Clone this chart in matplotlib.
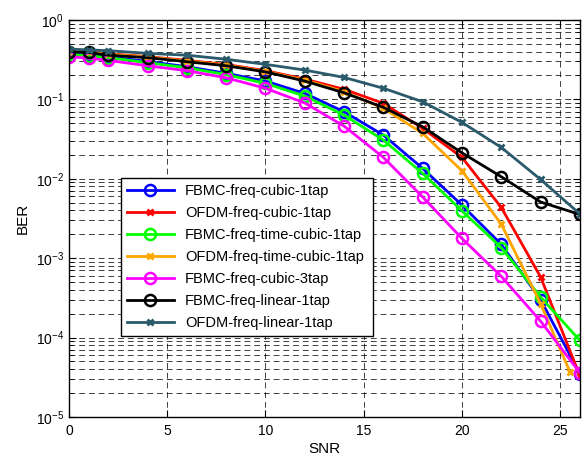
import numpy as np
import matplotlib
matplotlib.use("Agg")
import matplotlib.pyplot as plt
from matplotlib.ticker import LogLocator, NullFormatter

snr = [0, 1, 2, 4, 6, 8, 10, 12, 14, 16, 18, 20, 22, 24, 26]
snr_ofdm_time = [0, 1, 2, 4, 6, 8, 10, 12, 14, 16, 18, 20, 22, 24, 25.5]

ber_fbmc_cubic_1tap = [0.38, 0.365, 0.345, 0.30, 0.258, 0.213, 0.17, 0.119, 0.0698, 0.0355,
                       0.0135, 0.00465, 0.00149, 3.0e-4, 3.5e-5]
ber_ofdm_cubic_1tap = [0.41, 0.40, 0.375, 0.345, 0.31, 0.275, 0.23, 0.18, 0.134, 0.089,
                       0.0431, 0.0186, 0.00435, 5.8e-4, 3.3e-5]
ber_fbmc_time_cubic = [0.37, 0.355, 0.335, 0.29, 0.25, 0.205, 0.159, 0.11, 0.0634, 0.0307,
                       0.0117, 0.00394, 0.00136, 3.24e-4, 9.2e-5]
ber_ofdm_time_cubic = [0.405, 0.395, 0.37, 0.34, 0.305, 0.27, 0.225, 0.175, 0.125, 0.077,
                       0.0373, 0.0126, 0.00268, 2.67e-4, 3.67e-5]
ber_fbmc_cubic_3tap = [0.345, 0.33, 0.31, 0.265, 0.23, 0.187, 0.138, 0.09, 0.0461, 0.0186,
                       0.0059, 0.00177, 5.9e-4, 1.61e-4, 3.6e-5]
ber_fbmc_linear_1tap = [0.40, 0.39, 0.36, 0.335, 0.298, 0.265, 0.222, 0.17, 0.121, 0.0793,
                        0.0451, 0.0212, 0.0106, 0.0051, 0.00355]
ber_ofdm_linear_1tap = [0.43, 0.42, 0.41, 0.38, 0.36, 0.32, 0.276, 0.234, 0.189, 0.138,
                        0.0933, 0.0513, 0.0248, 0.0098, 0.0036]

labels = ["FBMC-freq-cubic-1tap", "OFDM-freq-cubic-1tap", "FBMC-freq-time-cubic-1tap",
          "OFDM-freq-time-cubic-1tap", "FBMC-freq-cubic-3tap", "FBMC-freq-linear-1tap",
          "OFDM-freq-linear-1tap"]

plt.rcParams["font.family"] = ["Liberation Sans", "DejaVu Sans"]

fig = plt.figure(figsize=(5.84, 4.59), dpi=100)
ax = fig.add_axes([0.118, 0.0915, 0.875, 0.865])

series = [
    (snr, ber_fbmc_cubic_1tap, "#0000ff", "o"),
    (snr, ber_ofdm_cubic_1tap, "#ff0000", "x"),
    (snr, ber_fbmc_time_cubic, "#00ff00", "o"),
    (snr_ofdm_time, ber_ofdm_time_cubic, "#ffa500", "x"),
    (snr, ber_fbmc_cubic_3tap, "#ff00ff", "o"),
    (snr, ber_fbmc_linear_1tap, "#000000", "o"),
    (snr, ber_ofdm_linear_1tap, "#2a5a6b", "x"),
]
for (x, y, c, m), lab in zip(series, labels):
    if m == "o":
        ax.semilogy(x, y, color=c, lw=2, marker="o", ms=8, mfc="none", mew=1.8, label=lab)
    else:
        ax.semilogy(x, y, color=c, lw=2, marker="x", ms=5, mew=2, label=lab)

ax.set_xlim(0, 26)
ax.set_ylim(1e-5, 1)
ax.set_xticks([0, 5, 10, 15, 20, 25])
ax.yaxis.set_major_locator(LogLocator(base=10, numticks=10))
ax.yaxis.set_minor_locator(LogLocator(base=10, subs=np.arange(2, 10), numticks=10))
ax.yaxis.set_minor_formatter(NullFormatter())
ax.grid(True, which="major", color="k", lw=0.7, ls=(0, (6, 4)), alpha=0.75)
ax.grid(True, which="minor", axis="y", color="k", lw=0.7, ls=(0, (6, 4)), alpha=0.75)
ax.tick_params(which="both", direction="in", top=True, right=True, labelsize=10)
ax.tick_params(which="major", length=5)
ax.tick_params(which="minor", length=3)
ax.tick_params(axis="x", pad=5)
for s in ax.spines.values():
    s.set_linewidth(1)

ax.set_xlabel("SNR", fontsize=11, labelpad=3)
ax.set_ylabel("BER", fontsize=11, labelpad=4)

leg = ax.legend(loc="lower left", bbox_to_anchor=(0.102, 0.204, 0.493, 0.398), mode="expand",
                fontsize=10.5, fancybox=False, framealpha=1, edgecolor="k",
                handlelength=3.2, borderaxespad=0, labelspacing=0.55, borderpad=0.4)
leg.get_frame().set_linewidth(1)

fig.savefig("out.png", dpi=100)
